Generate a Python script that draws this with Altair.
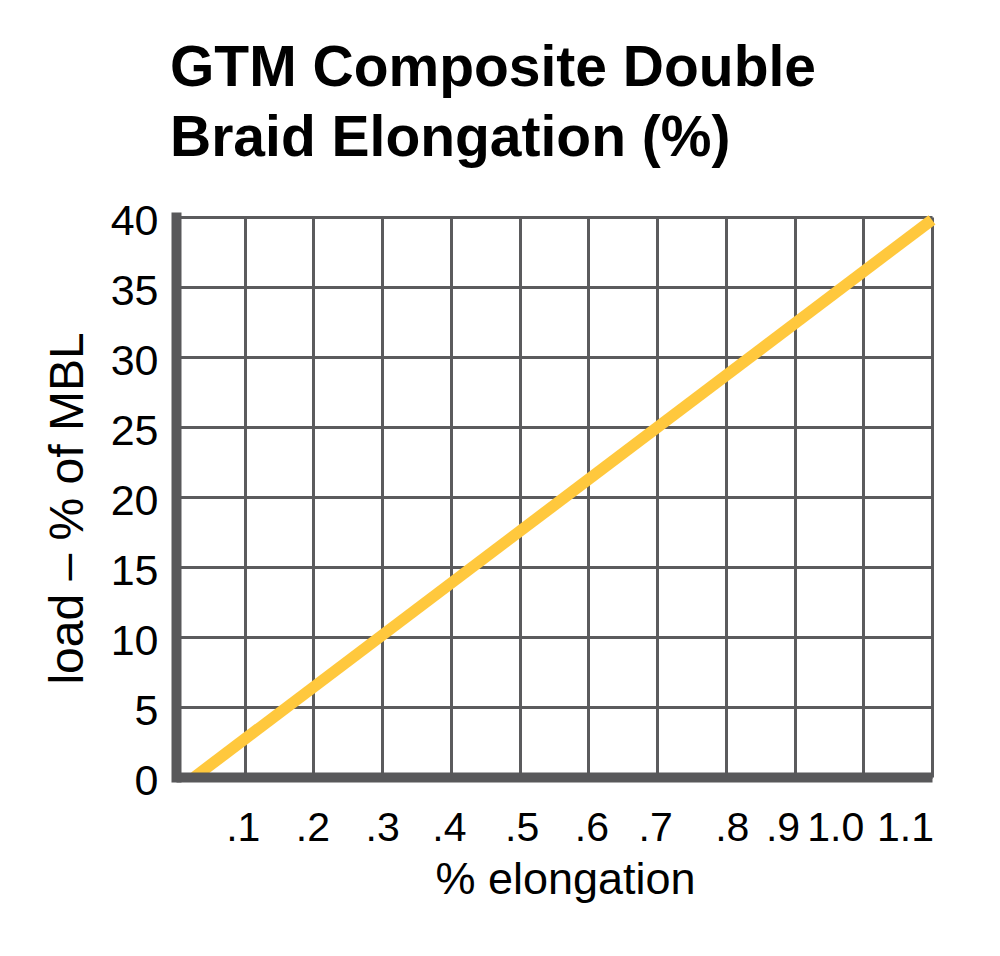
import json
import altair as alt
import pandas as pd

# ---- data ----
elongation = [0.027, 1.1]          # % elongation
load_pct = [0.0, 39.8]             # load, % of MBL

x_tick_values = [0.1, 0.2, 0.3, 0.4, 0.5, 0.6, 0.7, 0.8, 0.9, 1.0, 1.1]
x_tick_labels = [".1", ".2", ".3", ".4", ".5", ".6", ".7", ".8", ".9", "1.0", "1.1"]
y_tick_values = [0, 5, 10, 15, 20, 25, 30, 35, 40]

title_lines = ["GTM Composite Double", "Braid Elongation (%)"]
x_title = "% elongation"
y_title = "load \u2013 % of MBL"

# label nudges (pixels) to match the hand-placed labels of the original
x_label_dx = [-2, -1, 0, -2, 2, 3, -2, 6, -12, -28, -27]

df = pd.DataFrame({"x": elongation, "y": load_pct})

FONT = "Liberation Sans"
GRID = "#5b5b5d"
AXIS = "#58585a"
YELLOW = "#FFC83D"

xscale = alt.Scale(domain=[0, 1.1], nice=False, zero=False)
yscale = alt.Scale(domain=[0, 40], nice=False, zero=False)

label_expr = f"{json.dumps(x_tick_labels)}[round(datum.value*10)-1]"
offset_conditions = [
    {"test": f"round(datum.value*10)=={i + 1}", "value": dx}
    for i, dx in enumerate(x_label_dx) if dx != 0
]

grid_layer = alt.Chart(df).mark_line(opacity=0).encode(
    x=alt.X("x:Q", scale=xscale, axis=alt.Axis(
        orient="bottom", grid=True, domain=False, labels=False, ticks=False,
        title=None, values=[0] + x_tick_values, gridColor=GRID, gridWidth=3,
        gridOpacity=1, zindex=0)),
    y=alt.Y("y:Q", scale=yscale, axis=alt.Axis(
        orient="left", grid=True, domain=False, labels=False, ticks=False,
        title=None, values=y_tick_values, gridColor=GRID, gridWidth=3,
        gridOpacity=1, zindex=0)),
)

line_layer = alt.Chart(df).mark_line(
    color=YELLOW, strokeWidth=11.5, strokeCap="butt"
).encode(
    x=alt.X("x:Q", scale=xscale, axis=alt.Axis(
        orient="bottom", grid=False, domain=True, domainColor=AXIS,
        domainWidth=10, domainCap="butt", ticks=False, tickSize=0,
        values=x_tick_values, labelExpr=label_expr,
        labelFont=FONT, labelFontSize=41, labelColor="black",
        labelPadding=31, labelOverlap=False, labelFlush=False,
        labelOffset={"condition": offset_conditions, "value": 0},
        title=x_title, titleFont=FONT, titleFontSize=45,
        titleFontWeight="normal", titleColor="black",
        titleX=389, titleY=116, titleAlign="center",
        titleBaseline="alphabetic", zindex=1)),
    y=alt.Y("y:Q", scale=yscale, axis=alt.Axis(
        orient="left", grid=False, domain=True, domainColor=AXIS,
        domainWidth=10, domainCap="square", ticks=False, tickSize=0,
        values=y_tick_values, format="d",
        labelFont=FONT, labelFontSize=43, labelColor="black",
        labelPadding=18, labelOffset=4, labelOverlap=False, labelFlush=False,
        title=y_title, titleFont=FONT, titleFontSize=48,
        titleFontWeight="normal", titleColor="black",
        titleX=-94, titleY=291, titleAlign="center", titleAngle=-90,
        titleBaseline="alphabetic", zindex=1)),
)

chart = alt.layer(grid_layer, line_layer).resolve_axis(
    x="independent", y="independent"
).properties(
    width=756,
    height=560,
    padding={"left": 168, "top": 209, "right": 60, "bottom": 160},
    autosize=alt.AutoSizeParams(type="none"),
    title=alt.TitleParams(
        text=title_lines, anchor="start", frame="group", baseline="alphabetic",
        offset=60, dx=-6, dy=76, font=FONT, fontSize=57, fontWeight="bold",
        lineHeight=70, color="black"),
).configure_view(stroke=None).configure(background="white")

chart.save("out.html", embed_options={"renderer": "svg", "actions": False})
